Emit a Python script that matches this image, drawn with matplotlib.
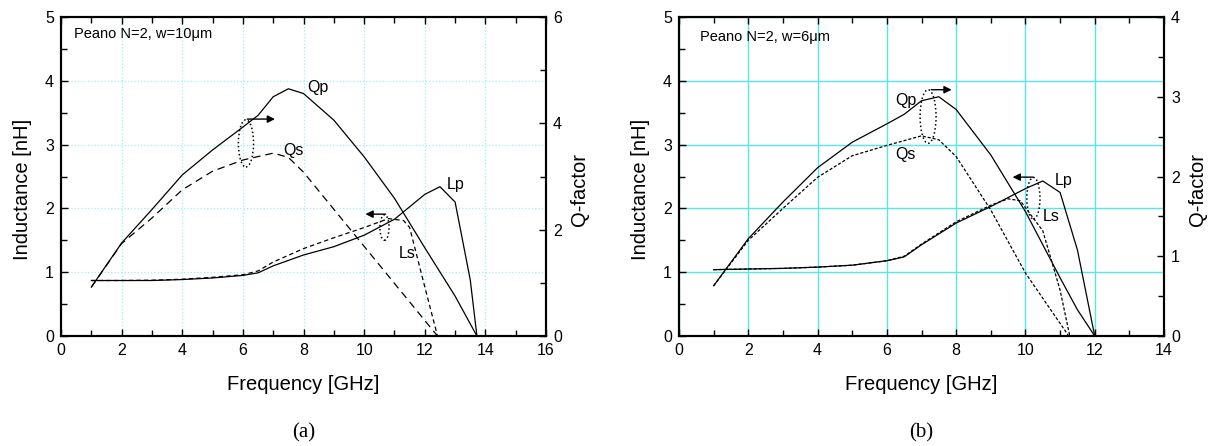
import numpy as np
import matplotlib
matplotlib.use("Agg")
import matplotlib.pyplot as plt
from matplotlib.patches import Ellipse
from matplotlib.ticker import MultipleLocator

plt.rcParams['font.family'] = ['Liberation Sans', 'DejaVu Sans']

# ---- panel (a): Peano N=2, w=10um ----
a_freq_Lp = [1, 2, 3, 4, 5, 6, 6.5, 7, 8, 9, 10, 11, 12, 12.5, 13, 13.5, 13.72]
a_Lp = [0.87, 0.87, 0.87, 0.885, 0.91, 0.95, 0.99, 1.10, 1.27, 1.40, 1.58, 1.83, 2.22, 2.34, 2.10, 0.88, 0.0]
a_freq_Ls = [1, 2, 3, 4, 5, 6, 6.5, 7, 8, 9, 10, 10.8, 11.3, 11.5, 12, 12.42]
a_Ls = [0.87, 0.87, 0.875, 0.89, 0.92, 0.96, 1.02, 1.16, 1.37, 1.54, 1.70, 1.84, 1.81, 1.70, 0.77, 0.0]
a_freq_Qp = [1, 2, 3, 4, 5, 6, 6.5, 7, 7.5, 8, 9, 10, 11, 12, 13, 13.72]
a_Qp = [0.92, 1.75, 2.38, 3.03, 3.50, 3.93, 4.15, 4.50, 4.65, 4.56, 4.06, 3.37, 2.59, 1.66, 0.75, 0.0]
a_freq_Qs = [1, 2, 3, 4, 5, 6, 7, 7.5, 8, 12.42]
a_Qs = [0.92, 1.74, 2.22, 2.75, 3.10, 3.31, 3.44, 3.36, 3.08, 0.0]

# ---- panel (b): Peano N=2, w=6um ----
b_freq_Lp = [1, 2, 3, 4, 5, 6, 6.5, 7, 8, 9, 10, 10.5, 11, 11.5, 12]
b_Lp = [1.04, 1.05, 1.06, 1.08, 1.11, 1.18, 1.24, 1.43, 1.77, 2.03, 2.31, 2.43, 2.25, 1.35, 0.0]
b_freq_Ls = [1, 2, 3, 4, 5, 6, 6.5, 7, 8, 9, 9.5, 9.85, 10.5, 11, 11.28]
b_Ls = [1.04, 1.05, 1.06, 1.08, 1.11, 1.18, 1.25, 1.44, 1.79, 2.05, 2.15, 2.12, 1.65, 0.72, 0.0]
b_freq_Qp = [1, 2, 3, 4, 5, 6, 6.5, 7, 7.5, 8, 9, 10, 11, 11.5, 12]
b_Qp = [0.63, 1.22, 1.68, 2.11, 2.43, 2.66, 2.78, 2.95, 3.00, 2.84, 2.27, 1.56, 0.73, 0.33, 0.0]
b_freq_Qs = [1, 2, 3, 4, 5, 6, 7, 7.5, 8, 9, 10, 11.25]
b_Qs = [0.63, 1.20, 1.60, 1.99, 2.26, 2.39, 2.51, 2.46, 2.25, 1.58, 0.79, 0.0]

fig = plt.figure(figsize=(12.11, 4.46), dpi=100)
ax_a = fig.add_axes([0.0504, 0.2466, 0.4005, 0.7153])
ax_b = fig.add_axes([0.5607, 0.2466, 0.4005, 0.7153])


def setup_axes(ax, xmax, qmax, qmajor, grid_kw):
    ax.set_xlim(0, xmax)
    ax.set_ylim(0, 5)
    ax.xaxis.set_major_locator(MultipleLocator(2))
    ax.xaxis.set_minor_locator(MultipleLocator(1))
    ax.yaxis.set_major_locator(MultipleLocator(1))
    ax.yaxis.set_minor_locator(MultipleLocator(0.5))
    ax.tick_params(which='both', direction='in', top=True, right=False,
                   labelsize=11.5, width=1.0, pad=5)
    ax.tick_params(which='major', length=5)
    ax.tick_params(which='minor', length=4)
    ax.grid(True, which='major', **grid_kw)
    ax.set_axisbelow(True)
    for s in ax.spines.values():
        s.set_linewidth(1.5)
    ax.set_xlabel('Frequency [GHz]', fontsize=14.5)
    ax.xaxis.set_label_coords(0.5, -0.122)
    ax.set_ylabel('Inductance [nH]', fontsize=14.5)
    ax.yaxis.set_label_coords(-0.06, 0.46)

    ax2 = ax.twinx()
    ax2.set_ylim(0, qmax)
    ax2.yaxis.set_major_locator(MultipleLocator(qmajor))
    ax2.yaxis.set_minor_locator(MultipleLocator(qmajor / 2))
    ax2.tick_params(which='both', direction='in', labelsize=11.5, width=1.0, pad=5)
    ax2.tick_params(which='major', length=5)
    ax2.tick_params(which='minor', length=4)
    for s in ax2.spines.values():
        s.set_linewidth(1.5)
    ax2.set_ylabel('Q-factor', fontsize=14.5)
    ax2.yaxis.set_label_coords(1.05, 0.46)
    return ax2


# panel (a)
qa = setup_axes(ax_a, 16, 6, 2, dict(color='#9eeeee', linestyle=':', linewidth=0.9))
ax_a.plot(a_freq_Lp, a_Lp, color='k', lw=0.9)
ax_a.plot(a_freq_Ls, a_Ls, color='k', lw=0.9, linestyle=(0, (3.5, 2.5)))
qa.plot(a_freq_Qp, a_Qp, color='k', lw=0.9)
qa.plot(a_freq_Qs, a_Qs, color='k', lw=0.9, linestyle=(0, (6, 4)))

ax_a.add_patch(Ellipse((6.1, 3.02), 0.5, 0.74, fill=False, linestyle=':', lw=1.1, color='k'))
ax_a.annotate('', xy=(7.15, 3.40), xytext=(6.05, 3.40),
              arrowprops=dict(arrowstyle='-|>', color='k', lw=1, mutation_scale=11))
ax_a.add_patch(Ellipse((10.67, 1.70), 0.3, 0.40, fill=False, linestyle=':', lw=1.1, color='k'))
ax_a.annotate('', xy=(9.95, 1.91), xytext=(10.8, 1.91),
              arrowprops=dict(arrowstyle='-|>', color='k', lw=1, mutation_scale=11))

ax_a.text(8.47, 3.89, 'Qp', fontsize=11.5, ha='center', va='center')
ax_a.text(7.66, 2.90, 'Qs', fontsize=11.5, ha='center', va='center')
ax_a.text(13.03, 2.38, 'Lp', fontsize=11.5, ha='center', va='center')
ax_a.text(11.41, 1.29, 'Ls', fontsize=11.5, ha='center', va='center')
ax_a.text(0.43, 4.73, 'Peano N=2, w=10\u03bcm', fontsize=10.5, ha='left', va='center')
ax_a.text(0.5, -0.304, '(a)', transform=ax_a.transAxes, fontsize=15,
          family='Liberation Serif', ha='center', va='center')

# panel (b)
qb = setup_axes(ax_b, 14, 4, 1, dict(color='#55e8e8', linestyle='-', linewidth=1.0))
ax_b.plot(b_freq_Lp, b_Lp, color='k', lw=0.9)
ax_b.plot(b_freq_Ls, b_Ls, color='k', lw=0.9, linestyle=(0, (2.5, 1.5)))
qb.plot(b_freq_Qp, b_Qp, color='k', lw=0.9)
qb.plot(b_freq_Qs, b_Qs, color='k', lw=0.9, linestyle=(0, (2.5, 1.5)))

ax_b.add_patch(Ellipse((7.19, 3.44), 0.46, 0.84, fill=False, linestyle=':', lw=1.1, color='k'))
ax_b.annotate('', xy=(7.95, 3.86), xytext=(7.2, 3.86),
              arrowprops=dict(arrowstyle='-|>', color='k', lw=1, mutation_scale=11))
ax_b.add_patch(Ellipse((10.23, 2.16), 0.38, 0.65, fill=False, linestyle=':', lw=1.1, color='k'))
ax_b.annotate('', xy=(9.55, 2.49), xytext=(10.3, 2.49),
              arrowprops=dict(arrowstyle='-|>', color='k', lw=1, mutation_scale=11))

ax_b.text(6.55, 3.69, 'Qp', fontsize=11.5, ha='center', va='center')
ax_b.text(6.55, 2.85, 'Qs', fontsize=11.5, ha='center', va='center')
ax_b.text(11.11, 2.43, 'Lp', fontsize=11.5, ha='center', va='center')
ax_b.text(10.75, 1.87, 'Ls', fontsize=11.5, ha='center', va='center')
ax_b.text(0.61, 4.68, 'Peano N=2, w=6\u03bcm', fontsize=10.5, ha='left', va='center')
ax_b.text(0.5, -0.304, '(b)', transform=ax_b.transAxes, fontsize=15,
          family='Liberation Serif', ha='center', va='center')

fig.savefig('out.png', dpi=100)
